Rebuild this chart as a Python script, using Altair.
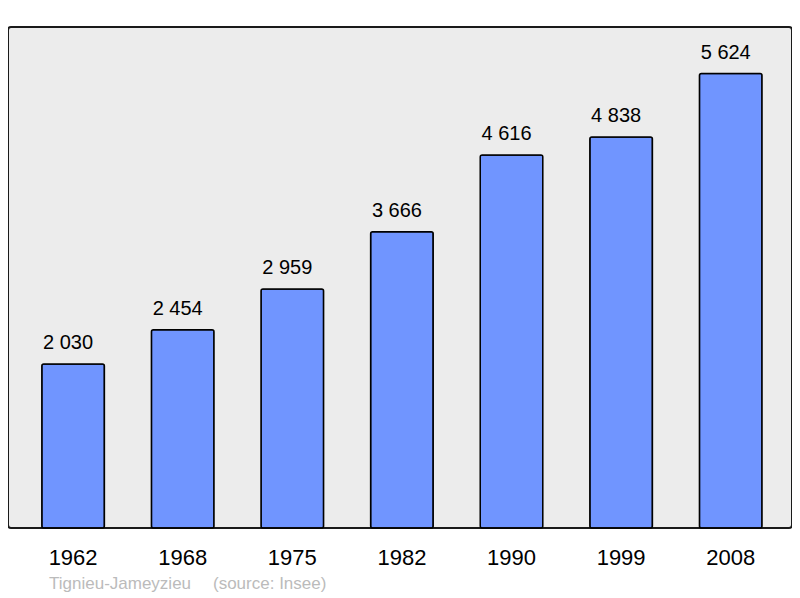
import altair as alt
import pandas as pd

years = ["1962", "1968", "1975", "1982", "1990", "1999", "2008"]
population = [2030, 2454, 2959, 3666, 4616, 4838, 5624]
labels = ["2 030", "2 454", "2 959", "3 666", "4 616", "4 838", "5 624"]
footer_place = "Tignieu-Jameyzieu"
footer_source = "(source: Insee)"

df = pd.DataFrame({"year": years, "pop": population, "label": labels})

FONT = "Liberation Sans"

x = alt.X("year:N", sort=years,
          scale=alt.Scale(paddingInner=0.429, paddingOuter=0.291, align=0.53),
          axis=alt.Axis(title=None, labelAngle=0, labelFontSize=22, labelFont=FONT,
                        labelColor="#000000", ticks=False, tickSize=0, domain=False,
                        labelPadding=36, labelBaseline="alphabetic", grid=False))
y = alt.Y("pop:Q", scale=alt.Scale(domain=[0, 6200], nice=False),
          axis=None)

bars = alt.Chart(df).mark_bar(color="#7095ff", stroke="#000000", strokeWidth=1.5,
                              cornerRadius=2).encode(x=x, y=y)

text = alt.Chart(df).mark_text(fontSize=20, font=FONT, color="#000000", dy=-15, dx=-5,
                               baseline="alphabetic").encode(
    x=alt.X("year:N", sort=years), y="pop:Q", text="label:N")

foot1 = alt.Chart(pd.DataFrame({"t": [footer_place]})).mark_text(
    fontSize=17, font=FONT, color="#bbbbbb", align="left", baseline="alphabetic"
).encode(x=alt.value(41), y=alt.value(562), text="t:N")

foot2 = alt.Chart(pd.DataFrame({"t": [footer_source]})).mark_text(
    fontSize=17, font=FONT, color="#bbbbbb", align="left", baseline="alphabetic"
).encode(x=alt.value(205), y=alt.value(562), text="t:N")

chart = alt.layer(bars, text, foot1, foot2).properties(
    width=784, height=501,
    padding={"left": 0, "top": 19, "right": 0, "bottom": 66},
    autosize=alt.AutoSizeParams(type="none"),
    background="#ffffff",
).configure_view(
    fill="#ececec", stroke="#1a1a1a", strokeWidth=2, cornerRadius=3
)

chart.save("out.html", embed_options={"renderer": "svg", "actions": False})
